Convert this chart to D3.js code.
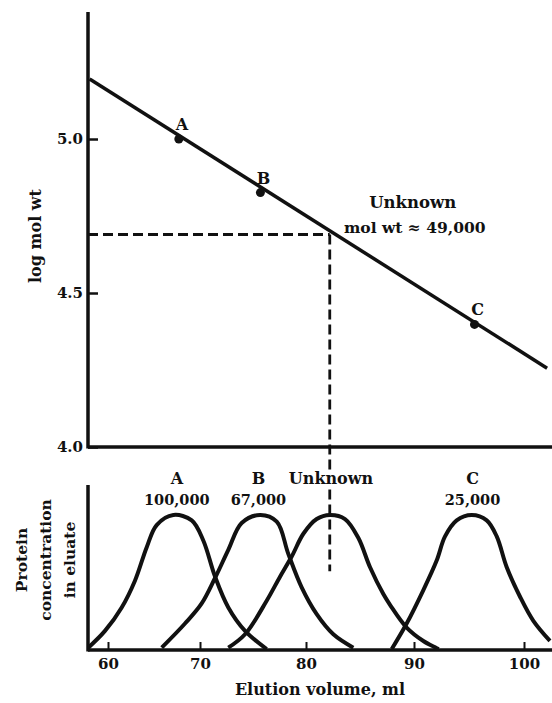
<!DOCTYPE html>
<html>
<head>
<meta charset="utf-8">
<script src="https://cdn.jsdelivr.net/npm/d3@7"></script>
<style>
  body { margin: 0; background: #fff; }
  text { font-family: "DejaVu Serif", serif; font-weight: bold; fill: #111; }
</style>
</head>
<body>
<div id="chart"></div>
<script>
// Gel filtration calibration: log mol wt vs elution volume, plus elution profiles

// Data
var standardNames   = ["A", "B", "C"];
var standardVolumes = [67.7, 75.7, 95.5];          // ml
var standardLogMw   = [5.0, 4.826, 4.398];
var standardMw      = ["100,000", "67,000", "25,000"];

var unknownVolume = 82.2;
var unknownLogMw  = 4.69;

var calibrationVolumes = [58.0, 102.1];
var calibrationLogMw   = [5.195, 4.256];

var volumeTicks = [60, 70, 80, 90, 100];
var logTicks    = [4.0, 4.5, 5.0];

// elution profiles [ml, relative concentration]
var peakA = [[57.86,0.01],[59.67,0.135],[61.49,0.31],[62.93,0.51],[64.21,0.76],[65.29,0.925],
             [67.1,1.0],[69.1,0.96],[70.31,0.81],[71.42,0.54],[72.67,0.31],[74.25,0.135],[76.29,0]];
var peakB = [[65.84,0.01],[68.37,0.19],[70.16,0.34],[71.42,0.53],[72.67,0.74],[73.93,0.94],
             [75.66,1.0],[77.24,0.95],[78.33,0.71],[79.59,0.46],[80.99,0.26],[82.53,0.11],[84.38,0.01]];
var peakU = [[72.67,0.01],[74.25,0.11],[76.29,0.36],[77.55,0.54],[78.65,0.69],[79.75,0.86],
             [80.99,0.97],[82.22,1.0],[83.61,0.97],[84.84,0.83],[85.93,0.61],[87.16,0.41],
             [87.78,0.33],[89.32,0.16],[90.85,0.06],[92.25,0]];
var peakC = [[87.94,0],[89.32,0.19],[90.85,0.44],[92.06,0.66],[92.82,0.84],[93.88,0.96],
             [95.25,1.0],[96.61,0.96],[97.52,0.84],[98.43,0.61],[99.64,0.39],[100.85,0.21],[102.36,0.06]];

// Layout
var W = 552, H = 703
  , left = 88, right = 552
  , topY0 = 12, topY1 = 447
  , botY0 = 485, botY1 = 650;

var svg = d3.select("#chart").append("svg")
  .attr("width", W).attr("height", H);

// Scales (x is hand-drawn, ticks aren't evenly spaced)
var x = d3.scaleLinear()
  .domain(volumeTicks)
  .range([108, 200, 306, 414, 524]);

var yTop = d3.scaleLinear()
  .domain([4.0, 5.0])
  .range([topY1, 139]);

var yBot = d3.scaleLinear()
  .domain([0, 1])
  .range([649, 515]);

var ink = "#111";

// ---------- top panel ----------

var yAxis = d3.axisLeft(yTop)
  .tickValues(logTicks)
  .tickFormat(d3.format(".1f"))
  .tickSizeInner(-10)
  .tickSizeOuter(0)
  .tickPadding(5);

var gy = svg.append("g")
  .attr("transform", "translate(" + left + ",0)")
  .call(yAxis);
gy.select(".domain").remove();
gy.selectAll(".tick line").attr("stroke", ink).attr("stroke-width", 2.5);
gy.selectAll(".tick text").style("font-size", "15px").attr("fill", ink);

svg.append("line")
  .attr("x1", left).attr("x2", left)
  .attr("y1", topY0).attr("y2", topY1 + 1.5)
  .attr("stroke", ink).attr("stroke-width", 3.5);

svg.append("line")
  .attr("x1", left).attr("x2", right)
  .attr("y1", topY1).attr("y2", topY1)
  .attr("stroke", ink).attr("stroke-width", 3.5);

svg.append("text")
  .attr("transform", "translate(35,236) rotate(-90)")
  .attr("dy", "0.35em")
  .attr("text-anchor", "middle")
  .style("font-size", "16px")
  .text("log mol wt");

// dashed read-off lines
var ux = x(unknownVolume), uy = yTop(unknownLogMw);

svg.append("line")
  .attr("x1", left).attr("x2", ux)
  .attr("y1", uy).attr("y2", uy)
  .attr("stroke", ink).attr("stroke-width", 2.8)
  .attr("stroke-dasharray", "10,5");

svg.append("line")
  .attr("x1", ux).attr("x2", ux)
  .attr("y1", uy).attr("y2", yBot(0.58))
  .attr("stroke", ink).attr("stroke-width", 2.8)
  .attr("stroke-dasharray", "10,5");

// calibration line
var calib = d3.zip(calibrationVolumes, calibrationLogMw);
svg.append("path")
  .datum(calib)
  .attr("fill", "none")
  .attr("stroke", ink)
  .attr("stroke-width", 3.5)
  .attr("d", d3.line()
    .x(function(d) { return x(d[0]) })
    .y(function(d) { return yTop(d[1]) }));

var standards = standardNames.map(function(n, i) {
  return { name: n, ml: standardVolumes[i], logmw: standardLogMw[i], mw: standardMw[i] };
});

svg.selectAll(".std")
  .data(standards)
  .enter().append("circle")
  .attr("class", "std")
  .attr("cx", function(d) { return x(d.ml) })
  .attr("cy", function(d) { return yTop(d.logmw) })
  .attr("r", 4.5)
  .attr("fill", ink);

svg.selectAll(".stdlabel")
  .data(standards)
  .enter().append("text")
  .attr("class", "stdlabel")
  .attr("x", function(d) { return x(d.ml) + 3 })
  .attr("y", function(d) { return yTop(d.logmw) - 9 })
  .attr("text-anchor", "middle")
  .style("font-size", "16px")
  .text(function(d) { return d.name });

svg.append("text")
  .attr("x", ux + 83).attr("y", 208)
  .attr("text-anchor", "middle")
  .style("font-size", "16.5px")
  .text("Unknown");

svg.append("text")
  .attr("x", ux + 85).attr("y", 233)
  .attr("text-anchor", "middle")
  .style("font-size", "15.5px")
  .text("mol wt \u2248 49,000");

// ---------- bottom panel ----------

svg.append("clipPath").attr("id", "clip")
  .append("rect")
  .attr("x", left).attr("y", botY0)
  .attr("width", right - left).attr("height", botY1 - botY0);

var peakLine = d3.line()
  .curve(d3.curveCatmullRom)
  .x(function(d) { return x(d[0]) })
  .y(function(d) { return yBot(d[1]) });

svg.append("g")
  .attr("clip-path", "url(#clip)")
  .selectAll(".peak")
  .data([peakA, peakB, peakU, peakC])
  .enter().append("path")
  .attr("class", "peak")
  .attr("fill", "none")
  .attr("stroke", ink)
  .attr("stroke-width", 4)
  .attr("d", peakLine);

var xAxis = d3.axisBottom(x)
  .tickValues(volumeTicks)
  .tickSizeInner(-8)
  .tickSizeOuter(0)
  .tickPadding(8);

var gx = svg.append("g")
  .attr("transform", "translate(0," + botY1 + ")")
  .call(xAxis);
gx.select(".domain").remove();
gx.selectAll(".tick line").attr("stroke", ink).attr("stroke-width", 2);
gx.selectAll(".tick text").style("font-size", "15px").attr("fill", ink);

svg.append("line")
  .attr("x1", left).attr("x2", left)
  .attr("y1", botY0).attr("y2", botY1 + 1.5)
  .attr("stroke", ink).attr("stroke-width", 3.5);

svg.append("line")
  .attr("x1", left).attr("x2", right)
  .attr("y1", botY1).attr("y2", botY1)
  .attr("stroke", ink).attr("stroke-width", 3.5);

svg.append("text")
  .attr("x", 320).attr("y", 695)
  .attr("text-anchor", "middle")
  .style("font-size", "16px")
  .text("Elution volume, ml");

var yLab = svg.append("text")
  .attr("transform", "translate(46,560) rotate(-90)")
  .attr("text-anchor", "middle")
  .style("font-size", "15.5px");
["Protein", "concentration", "in eluate"].forEach(function(t, i) {
  yLab.append("tspan")
    .attr("x", 0)
    .attr("y", (i - 1) * 24)
    .attr("dy", "0.35em")
    .text(t);
});

// peak labels
var peakLabels = standards.concat([{ name: "Unknown", ml: unknownVolume + 0.3, mw: "" }]);

svg.selectAll(".pname")
  .data(peakLabels)
  .enter().append("text")
  .attr("class", "pname")
  .attr("x", function(d) { return x(d.ml) - 2 })
  .attr("y", 484)
  .attr("text-anchor", "middle")
  .style("font-size", "16px")
  .attr("stroke", "#fff").attr("stroke-width", 5)
  .attr("paint-order", "stroke")
  .text(function(d) { return d.name });

svg.selectAll(".pmw")
  .data(standards)
  .enter().append("text")
  .attr("class", "pmw")
  .attr("x", function(d) { return x(d.ml) - 2 })
  .attr("y", 505)
  .attr("text-anchor", "middle")
  .style("font-size", "14.5px")
  .text(function(d) { return d.mw });
</script>
</body>
</html>
